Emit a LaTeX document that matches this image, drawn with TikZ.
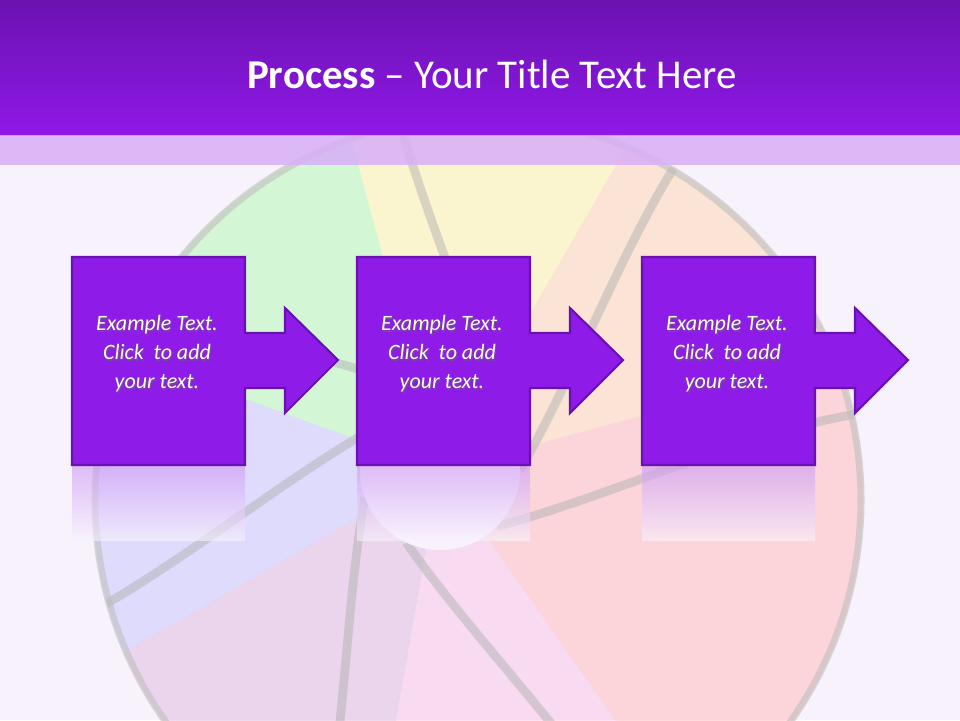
\documentclass[tikz,border=0pt]{standalone}
\usepackage{fontspec}
\setmainfont{Carlito}
\usetikzlibrary{calc}
\definecolor{bg}{HTML}{F8F2FC}
\definecolor{pur}{HTML}{8F1BE8}
\definecolor{purd}{HTML}{6A12B0}
\definecolor{tit1}{HTML}{6A12B0}
\definecolor{tit2}{HTML}{9018E8}
\begin{document}
\begin{tikzpicture}[x=0.02cm,y=-0.02cm,
  procarrow/.style={fill=pur,draw=purd,line width=1.2pt,line join=miter},
  lbl/.style={text=white,font=\fontsize{12.5pt}{16.5pt}\selectfont\itshape,align=center},
  blade/.style={opacity=0.45},
  sep/.style={draw=gray!60,line width=5pt,opacity=0.5}]
\useasboundingbox (0,0) rectangle (960,720);
\fill[bg] (0,0) rectangle (960,720);
% shutter background
\begin{scope}
\clip (478,500) circle (385);
\fill[blade,green!35!white] (440,470) -- ++(200:600) arc (200:255:600) -- cycle;
\fill[blade,yellow!40!white] (440,470) -- ++(255:600) arc (255:300:600) -- cycle;
\fill[blade,orange!35!white] (440,470) -- ++(300:600) arc (300:345:600) -- cycle;
\fill[blade,red!30!white] (440,470) -- ++(345:600) arc (345:415:600) -- cycle;
\fill[blade,magenta!25!white] (440,470) -- ++(55:600) arc (55:100:600) -- cycle;
\fill[blade,violet!30!white] (440,470) -- ++(100:600) arc (100:150:600) -- cycle;
\fill[blade,blue!25!white] (440,470) -- ++(150:600) arc (150:200:600) -- cycle;
\foreach \a in {200,255,300,345,415,100,150} {
  \draw[sep] (440,470) ++(\a+60:80) .. controls +(\a:150) and +(\a+200:120) .. ++(\a:450);
}
\fill[bg] (440,470) circle (80);
\end{scope}
\draw[gray!50,line width=4pt,opacity=0.6] (478,500) circle (383);
% title
\shade[top color=tit1,bottom color=tit2] (0,0) rectangle (960,135);
\fill[pur!35!white,opacity=0.85] (0,135) rectangle (960,165);
\node[text=white,font=\fontsize{23.3pt}{26pt}\selectfont] (title) at (492,74) {\textbf{Process} – Your Title Text Here};
% arrows
\foreach \i/\dx in {1/0,2/285,3/570} {
  \shade[top color=pur!45!white,bottom color=bg,opacity=0.6] (72+\dx,466) rectangle (245+\dx,540);
  \path[procarrow] (72+\dx,257) -- (245+\dx,257) -- (245+\dx,333) -- (285+\dx,333) -- (285+\dx,308)
     -- (338+\dx,360) -- (285+\dx,413) -- (285+\dx,388) -- (245+\dx,388) -- (245+\dx,465)
     -- (72+\dx,465) -- cycle;
  \node[lbl,text=black!60,opacity=0.6] at (158+\dx,356) {Example Text.\\Click\ \ to add\\your text.};
  \node[lbl] (t\i) at (157+\dx,354) {Example Text.\\Click\ \ to add\\your text.};
}
\end{tikzpicture}
\end{document}
